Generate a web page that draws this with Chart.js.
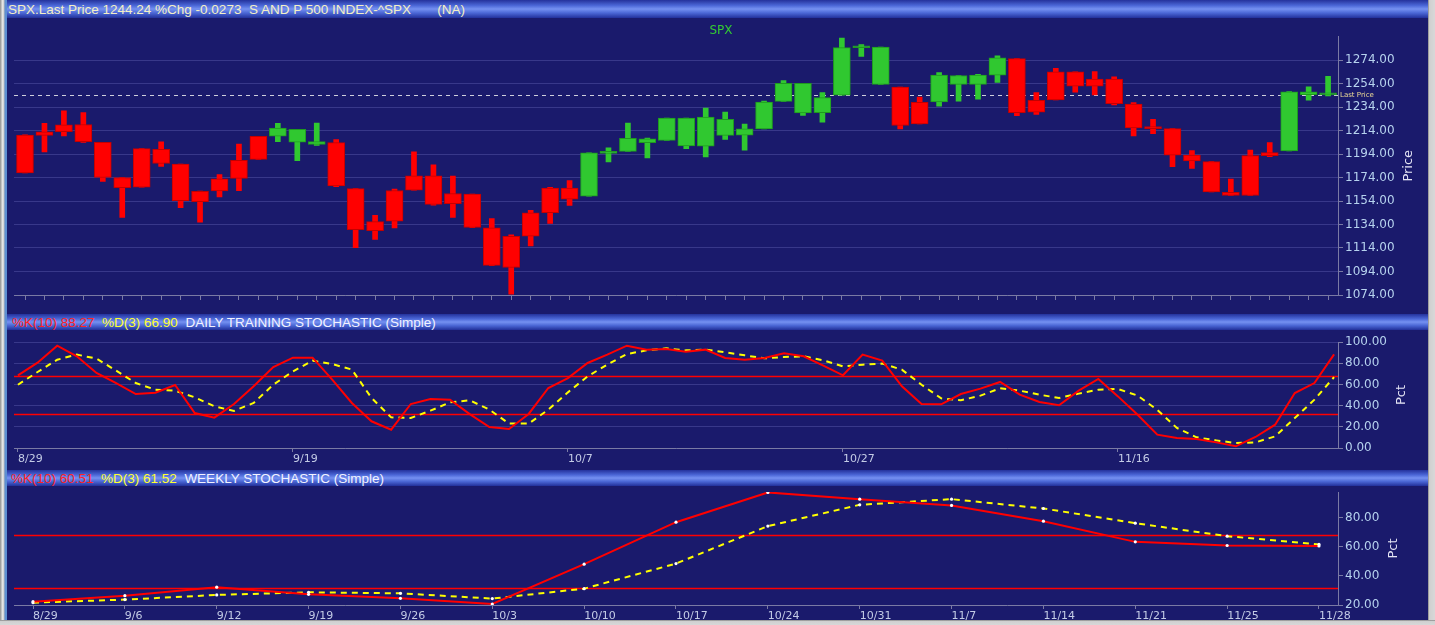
<!DOCTYPE html>
<html>
<head>
<meta charset="utf-8">
<script src="https://cdn.jsdelivr.net/npm/chart.js@4.4.1/dist/chart.umd.min.js"></script>
<style>
  html, body { margin: 0; padding: 0; background: #1a1a6c; }
  #wrap { position: relative; width: 1435px; height: 625px; overflow: hidden; background: #1a1a6c;
          font-family: 'Liberation Sans', Arial, sans-serif; }
  .hdr { position: absolute; left: 7px; width: 1421px; box-sizing: border-box; white-space: pre;
         font-size: 13.5px; color: #f2f2ff;
         background: linear-gradient(to bottom, #24329c 0%, #4a66d6 30%, #7591f1 50%, #4b67d5 72%, #22309a 100%); }
  canvas { position: absolute; left: 7px; }
  #leftEdge { position: absolute; left: 0; top: 0; width: 7px; height: 625px;
              background: linear-gradient(to right, #8c8c8c 0, #d4d4d4 2px, #f4f4f4 3px, #b8b8b8 4px, #5d8fd2 5px, #5d8fd2 7px); }
  #rightEdge { position: absolute; left: 1428px; top: 0; width: 7px; height: 625px;
               background: linear-gradient(to right, #6e6e6e 0, #cfcfcf 1px, #d8d8d8 7px); }
  #bottomEdge { position: absolute; left: 0; top: 620px; width: 1435px; height: 5px;
                background: linear-gradient(to bottom, #6e6e6e 0, #cfcfcf 1px, #d8d8d8 5px); }
</style>
</head>
<body>
<div id="wrap">
  <div class="hdr" id="hdrTop" style="top:0;height:18px;line-height:19px;padding-left:1px;color:#f3efc6"></div>
  <canvas id="priceChart" width="1421" height="295" style="top:18px;width:1421px;height:295px"></canvas>
  <div class="hdr" id="hdrDaily" style="top:314px;height:16px;line-height:17px;padding-left:5px"></div>
  <canvas id="dailyChart" width="1421" height="138" style="top:330px;width:1421px;height:138px"></canvas>
  <div class="hdr" id="hdrWeekly" style="top:470px;height:16px;line-height:17px;padding-left:4px"></div>
  <canvas id="weeklyChart" width="1421" height="134" style="top:486px;width:1421px;height:134px"></canvas>
  <div id="leftEdge"></div>
  <div id="rightEdge"></div>
  <div id="bottomEdge"></div>
</div>
<script>
// ---- data ----
const symbol = 'SPX';
const lastPrice = 1244.24;
const pctChg = -0.0273;

const dailyDates = [
  '8/29','8/30','8/31','9/1','9/2','9/6','9/7','9/8','9/9','9/12',
  '9/13','9/14','9/15','9/16','9/19','9/20','9/21','9/22','9/23','9/26',
  '9/27','9/28','9/29','9/30','10/3','10/4','10/5','10/6','10/7','10/10',
  '10/11','10/12','10/13','10/14','10/17','10/18','10/19','10/20','10/21','10/24',
  '10/25','10/26','10/27','10/28','10/31','11/1','11/2','11/3','11/4','11/7',
  '11/8','11/9','11/10','11/11','11/14','11/15','11/16','11/17','11/18','11/21',
  '11/22','11/23','11/25','11/28','11/29','11/30','12/1','12/2'
];
const openPrices = [
  1177.91,1209.76,1213.00,1219.12,1203.90,1173.97,1165.85,1197.98,1185.37,1153.50,
  1162.59,1173.32,1189.44,1209.21,1214.99,1204.50,1203.63,1164.55,1128.82,1136.91,
  1163.32,1175.39,1151.74,1159.93,1131.21,1097.42,1124.03,1144.11,1165.03,1158.15,
  1194.60,1196.19,1206.96,1205.65,1224.47,1200.75,1223.46,1209.92,1215.39,1238.72,
  1254.19,1229.17,1243.97,1284.39,1284.96,1251.00,1219.62,1238.25,1260.82,1253.21,
  1261.12,1275.18,1229.59,1240.12,1263.85,1251.70,1257.81,1236.56,1216.19,1215.62,
  1192.98,1187.48,1161.41,1158.67,1192.56,1196.72,1246.91,1246.03
];
const highPrices = [
  1210.28,1220.10,1230.71,1229.29,1203.90,1173.97,1198.62,1204.40,1185.37,1162.52,
  1176.41,1202.38,1209.11,1220.06,1214.99,1220.39,1206.30,1164.55,1141.72,1164.19,
  1195.86,1184.71,1175.31,1159.93,1138.99,1125.12,1146.07,1165.55,1171.40,1194.91,
  1199.24,1220.25,1207.46,1224.61,1224.47,1233.10,1229.64,1219.36,1239.03,1256.55,
  1254.19,1246.28,1292.66,1287.08,1284.96,1251.00,1242.48,1263.21,1260.82,1261.70,
  1277.55,1275.18,1246.22,1266.98,1263.85,1264.25,1259.61,1237.73,1223.51,1215.62,
  1196.81,1187.48,1172.66,1197.35,1203.67,1247.11,1251.09,1260.08
];
const lowPrices = [
  1177.91,1195.77,1209.35,1203.85,1170.56,1140.13,1165.85,1183.34,1148.37,1136.07,
  1157.44,1162.73,1189.44,1204.46,1188.36,1201.29,1166.21,1114.22,1121.36,1131.07,
  1163.32,1150.40,1139.93,1131.34,1098.92,1074.77,1115.68,1134.95,1150.26,1158.15,
  1187.30,1196.19,1190.58,1205.65,1198.55,1191.48,1206.31,1197.34,1215.39,1238.72,
  1226.79,1221.06,1243.97,1277.01,1253.16,1215.42,1219.62,1234.81,1238.92,1240.75,
  1254.99,1226.64,1227.70,1240.12,1246.68,1244.34,1235.67,1209.43,1211.36,1183.16,
  1181.65,1161.79,1158.66,1158.67,1191.80,1196.72,1239.73,1243.35
];
const closePrices = [
  1210.08,1212.92,1218.89,1204.42,1173.97,1165.24,1198.62,1185.90,1154.23,1162.27,
  1172.87,1188.68,1209.11,1216.01,1204.09,1202.09,1166.76,1129.56,1136.43,1162.95,
  1175.38,1151.06,1160.40,1131.42,1099.23,1123.95,1144.03,1164.97,1155.46,1194.89,
  1195.54,1207.25,1203.66,1224.58,1200.86,1225.38,1209.88,1215.39,1238.25,1254.19,
  1229.05,1242.00,1284.59,1285.09,1253.30,1218.28,1237.90,1261.15,1253.23,1261.12,
  1275.92,1229.10,1239.69,1263.85,1251.78,1257.81,1236.91,1216.13,1215.65,1192.98,
  1188.04,1161.79,1158.67,1192.55,1195.19,1246.96,1244.58,1244.28
];
// 1 = bullish training signal (green), 0 = bearish (red)
const trainingSignal = [
  0,0,0,0,0,0,0,0,0,0, 0,0,0,1,1,1,0,0,0,0,
  0,0,0,0,0,0,0,0,0,1, 1,1,1,1,1,1,1,1,1,1,
  1,1,1,1,1,0,0,1,1,1, 1,0,0,0,0,0,0,0,0,0,
  0,0,0,0,0,1,1,1
];
const priceTicks = [1074,1094,1114,1134,1154,1174,1194,1214,1234,1254,1274];
const priceMin = 1074, priceMax = 1294;

const dailyK = [
  68.6,80.5,96.5,86.5,70.8,61.3,50.9,52.2,59.4,33.0,
  28.6,41.5,58.2,76.4,85.2,85.2,64.5,42.5,25.2,17.3,
  41.5,46.2,45.6,32.0,19.8,17.9,32.1,56.6,66.0,80.2,
  88.1,96.5,92.8,93.4,90.9,92.8,84.9,83.3,84.9,89.3,
  86.5,77.7,68.6,88.1,82.4,58.2,41.5,41.2,50.9,56.0,
  62.3,50.3,43.4,40.3,54.1,65.1,48.7,31.4,12.6,9.4,
  8.5,5.3,1.6,10.4,22.0,51.9,61.3,88.27
];
const dailyD = [
  59.7,71.7,83.3,88.1,84.3,73.0,61.3,55.0,54.1,47.8,
  39.3,35.0,42.5,59.7,72.3,82.4,79.2,74.0,47.2,28.9,
  28.3,35.2,43.1,45.0,36.2,23.0,23.0,36.2,52.5,67.6,
  78.6,88.7,92.1,94.0,92.1,92.8,90.3,87.4,84.6,85.8,
  86.5,82.7,77.0,78.6,79.6,73.9,59.7,46.8,45.0,49.4,
  56.3,54.1,50.3,47.2,51.3,55.0,55.7,49.4,36.0,18.9,
  10.1,7.2,4.7,5.3,11.0,28.3,45.6,66.90
];
const dailyTickLabels = ['8/29','9/19','10/7','10/27','11/16'];
const pctTicks = [0,20,40,60,80,100];

const weeklyDates = ['8/29','9/6','9/12','9/19','9/26','10/3','10/10','10/17','10/24','10/31','11/7','11/14','11/21','11/25','11/28'];
const weeklyK = [22.3,26.4,32.2,27.3,24.6,20.7,48.0,76.8,97.2,92.6,88.3,77.5,63.3,60.8,60.51];
const weeklyD = [21.6,23.7,26.9,28.7,28.0,24.4,31.2,48.4,74.1,88.7,92.6,86.2,76.1,67.2,61.52];
const weeklyTicks = [20,40,60,80];
const weeklyMin = 20, weeklyMax = 97.5;

const upperBand = 68, lowerBand = 32;

// ---- headers ----
const last = a => a[a.length - 1];
document.getElementById('hdrTop').textContent =
  symbol + '.Last Price ' + lastPrice.toFixed(2) + ' %Chg ' + pctChg.toFixed(4) + '  S AND P 500 INDEX-^' + symbol + '       (NA)';
function stochHeader(id, k, d, name) {
  document.getElementById(id).innerHTML =
    '<span style="color:#ff2424">%K(10) ' + last(k).toFixed(2) + '</span>  ' +
    '<span style="color:#ffff30">%D(3) ' + last(d).toFixed(2) + '</span>  ' + name;
}
stochHeader('hdrDaily', dailyK, dailyD, 'DAILY TRAINING STOCHASTIC (Simple)');
stochHeader('hdrWeekly', weeklyK, weeklyD, 'WEEKLY STOCHASTIC (Simple)');

// ---- shared styling ----
Chart.defaults.font.family = "'DejaVu Sans', sans-serif";
const gridColor = '#38388a';
const axisColor = '#7a7aa4';
const labelColor = '#b6d2ee';
const dateColor = '#c4cce6';

const fit = (prop, size) => s => {
  s[prop] = size;
  s.paddingTop = s.paddingBottom = s.paddingLeft = s.paddingRight = 0;
};
const setTicks = values => s => { s.ticks = values.map(v => ({ value: v })); };

const panelExtras = {
  id: 'panelExtras',
  beforeDatasetsDraw(chart, args, o) {
    const { ctx, chartArea: a, scales: { y } } = chart;
    ctx.save();
    (o.levels || []).forEach(l => {
      const py = Math.round(y.getPixelForValue(l.value)) + 0.5;
      ctx.strokeStyle = l.color;
      ctx.lineWidth = l.width;
      ctx.setLineDash(l.dash || []);
      ctx.beginPath();
      ctx.moveTo(a.left, py);
      ctx.lineTo(a.right, py);
      ctx.stroke();
      if (l.label) {
        ctx.setLineDash([]);
        ctx.fillStyle = '#eedc96';
        ctx.font = "7px 'DejaVu Sans'";
        ctx.textBaseline = 'middle';
        ctx.fillText(l.label, a.right + 2, py);
      }
    });
    ctx.restore();
  },
  afterDraw(chart, args, o) {
    if (!o.title) return;
    const { ctx, chartArea: a } = chart;
    ctx.save();
    ctx.translate(a.right + o.titleOffset, (a.top + a.bottom) / 2);
    ctx.rotate(-Math.PI / 2);
    ctx.font = "13px 'DejaVu Sans'";
    ctx.fillStyle = '#e4e4f4';
    ctx.textAlign = 'center';
    ctx.textBaseline = 'middle';
    ctx.fillText(o.title, 0, 0);
    ctx.restore();
  }
};

function yAxis(min, max, ticks, drawGrid) {
  return {
    position: 'right', min, max,
    afterBuildTicks: setTicks(ticks),
    afterFit: fit('width', 90),
    ticks: { color: labelColor, font: { size: 12 }, padding: 2, callback: v => v.toFixed(2) },
    grid: { color: gridColor, tickColor: axisColor, tickLength: 5, drawOnChartArea: drawGrid },
    border: { color: axisColor }
  };
}

// ---- price panel ----
const fills = trainingSignal.map(s => s ? '#30c830' : '#ff0000');
const edges = trainingSignal.map(s => s ? '#1f9a1f' : '#c40000');

new Chart(document.getElementById('priceChart'), {
  type: 'bar',
  data: {
    datasets: [
      {
        label: 'range',
        data: dailyDates.map((d, i) => ({ x: i, y: [lowPrices[i], highPrices[i]] })),
        backgroundColor: fills, borderWidth: 0,
        barThickness: 5, grouped: false, order: 2
      },
      {
        label: 'body',
        data: dailyDates.map((d, i) => ({ x: i, y: [openPrices[i], closePrices[i]] })),
        backgroundColor: fills, borderColor: edges, borderWidth: 1, borderSkipped: false,
        barThickness: 17, minBarLength: 2, grouped: false, order: 1
      }
    ]
  },
  options: {
    responsive: false, animation: false, events: [],
    layout: { padding: { left: 7, right: 0, top: 0, bottom: 0 } },
    plugins: {
      legend: { display: false }, tooltip: { enabled: false },
      title: {
        display: true, text: symbol, color: '#33cc33',
        font: { size: 12, weight: 'normal', lineHeight: 1 }, padding: { top: 6.5, bottom: 0 }
      },
      panelExtras: {
        levels: [{ value: lastPrice, color: '#cfcfdc', width: 1, dash: [4, 4], label: 'Last Price' }],
        title: 'Price', titleOffset: 71
      }
    },
    scales: {
      x: {
        type: 'linear', min: -0.566, max: 67.51, offset: false,
        afterBuildTicks: setTicks(dailyDates.map((d, i) => i)),
        afterFit: fit('height', 18),
        ticks: { display: false },
        grid: { offset: false, drawOnChartArea: false, tickColor: axisColor, tickLength: 5 },
        border: { color: axisColor }
      },
      y: yAxis(priceMin, priceMax, priceTicks, true)
    }
  },
  plugins: [panelExtras]
});

// ---- stochastic panels ----
function stochChart(id, dates, k, d, opts) {
  return new Chart(document.getElementById(id), {
    type: 'line',
    data: {
      datasets: [
        {
          label: '%K', data: k.map((v, i) => ({ x: i, y: v })),
          borderColor: '#ff0000', borderWidth: 2, tension: 0,
          pointRadius: opts.points ? 1.6 : 0, pointBackgroundColor: '#ffffff', pointBorderWidth: 0
        },
        {
          label: '%D', data: d.map((v, i) => ({ x: i, y: v })),
          borderColor: '#ffff00', borderWidth: 2, borderDash: [6, 5], tension: 0,
          pointRadius: opts.points ? 1.6 : 0, pointBackgroundColor: '#ffffff', pointBorderWidth: 0
        }
      ]
    },
    options: {
      responsive: false, animation: false, events: [],
      layout: { padding: { left: 7, right: 0, top: opts.top, bottom: 0 } },
      plugins: {
        legend: { display: false }, tooltip: { enabled: false },
        panelExtras: {
          levels: [
            { value: upperBand, color: '#ff0000', width: 1.5 },
            { value: lowerBand, color: '#ff0000', width: 1.5 }
          ],
          title: 'Pct', titleOffset: opts.titleOffset
        }
      },
      scales: {
        x: {
          type: 'linear', min: opts.xMin, max: opts.xMax,
          afterBuildTicks: setTicks(opts.tickIdx),
          afterFit: fit('height', opts.xHeight),
          ticks: {
            color: dateColor, font: { size: 11 }, padding: 1, align: 'start',
            maxRotation: 0, autoSkip: false, callback: v => dates[v]
          },
          grid: { drawOnChartArea: false, tickColor: axisColor, tickLength: 4 },
          border: { color: axisColor }
        },
        y: yAxis(opts.yMin, opts.yMax, opts.yTicks, opts.grid)
      }
    },
    plugins: [panelExtras]
  });
}

stochChart('dailyChart', dailyDates, dailyK, dailyD, {
  top: 12, xMin: -0.2, xMax: 67.2, xHeight: 20,
  tickIdx: dailyTickLabels.map(l => dailyDates.indexOf(l)),
  yMin: 0, yMax: 100, yTicks: pctTicks, grid: true, titleOffset: 64, points: false
});

stochChart('weeklyChart', weeklyDates, weeklyK, weeklyD, {
  top: 6, xMin: -0.207, xMax: 14.207, xHeight: 15,
  tickIdx: weeklyDates.map((d, i) => i),
  yMin: weeklyMin, yMax: weeklyMax, yTicks: weeklyTicks, grid: false, titleOffset: 56, points: true
});
</script>
</body>
</html>
